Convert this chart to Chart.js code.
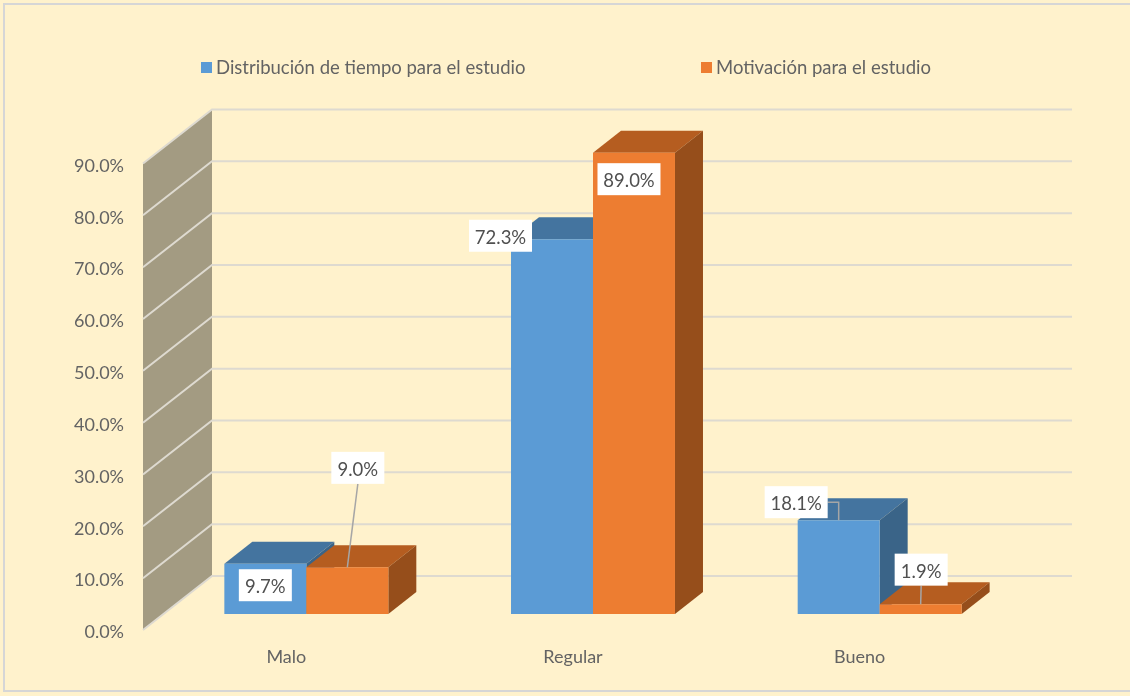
<!DOCTYPE html>
<html>
<head>
<meta charset="utf-8">
<script src="https://cdn.jsdelivr.net/npm/chart.js@4"></script>
<style>
  html, body { margin: 0; padding: 0; background: #FFF2CC; overflow: hidden; }
  canvas { display: block; }
</style>
</head>
<body>
<canvas id="myChart" width="1130" height="696"></canvas>
<script>
const categories = ['Malo', 'Regular', 'Bueno']
const seriesNames = ['Distribución de tiempo para el estudio', 'Motivación para el estudio']
const tiempoValues = [9.7, 72.3, 18.1]
const motivacionValues = [9.0, 89.0, 1.9]

const fontFamily = 'Lato, "Open Sans", sans-serif'
const textColor = '#636363'
const gridColor = '#DEDAD0'
const frameColor = '#D6D6D6'
const faceColors = ['#5B9BD5', '#ED7D31']
const topColors = ['#44749F', '#B55D20']
const sideColors = ['#3A6488', '#964E1B']

// the fake 3D: floor goes back by this much, bars stand partway in
const wall = { dx: 69, dy: -54 }
const barShift = { x: 20, y: -16 }
const depth = { dx: 28, dy: -22 }

// where the data labels sit, relative to the middle of each bar's top edge
const labelSpots = [
  [{ dx: 0, dy: 21.5 }, { dx: -51.5, dy: -3.5 }, { dx: -42.5, dy: -18, leader: 'elbow' }],
  [{ dx: 10.5, dy: -99.5, leader: 'line' }, { dx: -5, dy: 26.5 }, { dx: 0.5, dy: -34.5, leader: 'line' }]
]

function polygon(ctx, points, color) {
  ctx.fillStyle = color
  ctx.beginPath()
  points.forEach((p, i) => i ? ctx.lineTo(p[0], p[1]) : ctx.moveTo(p[0], p[1]))
  ctx.closePath()
  ctx.fill()
}

function line(ctx, points) {
  ctx.beginPath()
  points.forEach((p, i) => i ? ctx.lineTo(p[0], p[1]) : ctx.moveTo(p[0], p[1]))
  ctx.stroke()
}

const scene3d = {
  id: 'scene3d',

  // Lato sits high on its middle baseline, nudge the y tick labels down a bit
  afterLayout(chart) {
    chart.scales.y.getLabelItems(chart.chartArea).forEach(item => {
      item.options.translation[1] += 2.5
    })
  },

  beforeDraw(chart) {
    const { ctx, width, height } = chart
    ctx.save()
    ctx.fillStyle = '#FFF2CC'
    ctx.fillRect(0, 0, width, height)
    ctx.strokeStyle = frameColor
    ctx.lineWidth = 2
    ctx.strokeRect(4, 4, width + 10, height - 9)

    // legend
    ctx.font = '18.5px ' + fontFamily
    ctx.textBaseline = 'middle'
    ;[201, 701].forEach((x, i) => {
      ctx.fillStyle = faceColors[i]
      ctx.fillRect(x, 62, 11, 11)
      ctx.fillStyle = textColor
      ctx.fillText(seriesNames[i], x + 15, 68.5)
    })
    ctx.restore()
  },

  beforeDatasetsDraw(chart) {
    const { ctx, chartArea, scales: { y } } = chart
    const left = chartArea.left
    const backLeft = left + wall.dx
    const backRight = chartArea.right + wall.dx
    const top = y.getPixelForValue(y.max)
    const bottom = y.getPixelForValue(y.min)

    ctx.save()
    polygon(ctx, [
      [left, top], [backLeft, top + wall.dy],
      [backLeft, bottom + wall.dy], [left, bottom]
    ], '#A39B82')

    ctx.strokeStyle = gridColor
    ctx.lineWidth = 2
    y.ticks.forEach(t => {
      const py = y.getPixelForValue(t.value)
      line(ctx, [[left, py], [backLeft, py + wall.dy], [backRight, py + wall.dy]])
    })
    ctx.restore()
  },

  // Chart.js paints the last dataset first, but orange has to cover blue here,
  // so skip its pass and paint them in order below
  beforeDatasetDraw() {
    return false
  },

  afterDatasetsDraw(chart) {
    const { ctx } = chart

    chart.data.datasets.forEach((ds, d) => {
      const meta = chart.getDatasetMeta(d)
      ctx.save()
      ctx.translate(barShift.x, barShift.y)
      meta.data.forEach(bar => {
        const l = bar.x - bar.width / 2
        const r = bar.x + bar.width / 2
        polygon(ctx, [
          [l, bar.y], [l + depth.dx, bar.y + depth.dy],
          [r + depth.dx, bar.y + depth.dy], [r, bar.y]
        ], topColors[d])
        polygon(ctx, [
          [r, bar.y], [r + depth.dx, bar.y + depth.dy],
          [r + depth.dx, bar.base + depth.dy], [r, bar.base]
        ], sideColors[d])
      })
      meta.controller.draw()
      ctx.restore()
    })

    ctx.save()
    ctx.font = '18.5px ' + fontFamily
    ctx.textAlign = 'center'
    ctx.textBaseline = 'middle'

    chart.data.datasets.forEach((ds, d) => {
      chart.getDatasetMeta(d).data.forEach((bar, i) => {
        const spot = labelSpots[d][i]
        const barX = bar.x + barShift.x
        const barY = bar.y + barShift.y
        const cx = barX + spot.dx
        const cy = barY + spot.dy
        const w = ds.data[i] < 10 ? 53 : 63
        const h = 32

        ctx.strokeStyle = '#A6A6A6'
        ctx.lineWidth = 1.5
        if (spot.leader === 'line') {
          line(ctx, [[cx, cy + h / 2], [barX, barY]])
        } else if (spot.leader === 'elbow') {
          line(ctx, [[cx + w / 2, cy], [barX, cy], [barX, barY]])
        }

        ctx.fillStyle = '#FFFFFF'
        ctx.fillRect(cx - w / 2, cy - h / 2, w, h)
        ctx.fillStyle = '#505050'
        ctx.fillText(ds.data[i].toFixed(1) + '%', cx, cy + 2)
      })
    })
    ctx.restore()
  }
}

new Chart(document.getElementById('myChart'), {
  type: 'bar',
  data: {
    labels: categories,
    datasets: [
      { label: seriesNames[0], data: tiempoValues, backgroundColor: faceColors[0], clip: false },
      { label: seriesNames[1], data: motivacionValues, backgroundColor: faceColors[1], clip: false }
    ]
  },
  options: {
    responsive: false,
    animation: false,
    categoryPercentage: 0.572,
    barPercentage: 1,
    layout: { padding: { top: 163.5, right: 127 } },
    plugins: {
      legend: { display: false },
      tooltip: { enabled: false }
    },
    scales: {
      x: {
        grid: { display: false, drawTicks: false },
        border: { display: false },
        ticks: { color: textColor, padding: 16, font: { family: fontFamily, size: 18 }, maxRotation: 0 },
        afterFit(scale) { scale.height = 66 }
      },
      y: {
        min: 0,
        max: 90,
        grid: { display: false, drawTicks: false },
        border: { display: false },
        ticks: {
          stepSize: 10,
          color: textColor,
          padding: 19,
          font: { family: fontFamily, size: 18 },
          callback: v => v.toFixed(1) + '%'
        },
        afterFit(scale) { scale.width = 143 }
      }
    }
  },
  plugins: [scene3d]
})
</script>
</body>
</html>
